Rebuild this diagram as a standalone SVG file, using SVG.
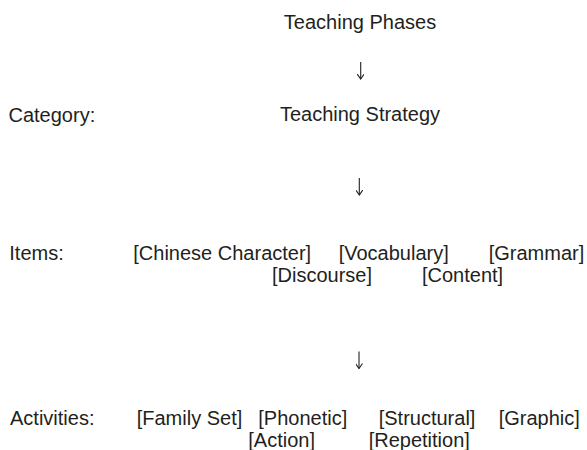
<svg xmlns="http://www.w3.org/2000/svg" width="587" height="450" viewBox="0 0 587 450">
<style>
text{font-family:"Liberation Sans",Arial,Helvetica,sans-serif;font-size:20px;fill:#231f20}
.m{text-anchor:middle}
.arr{fill:none;stroke:#231f20;stroke-width:1.1}
</style>
<defs>
<marker id="head" viewBox="0 0 6 7" refX="5.5" refY="3.5" markerWidth="6" markerHeight="7" markerUnits="userSpaceOnUse" orient="auto">
<path d="M0.5,0 L5.5,3.5 L0.5,7" fill="none" stroke="#231f20" stroke-width="1.1"/>
</marker>
</defs>
<rect width="587" height="450" fill="#fff"/>
<g id="phases"><text class="m" x="360" y="29">Teaching Phases</text></g>
<g id="category-label"><text x="8.5" y="121.5">Category:</text></g>
<g id="strategy"><text class="m" x="360" y="121">Teaching Strategy</text></g>
<g id="items-label"><text x="9.3" y="260">Items:</text></g>
<g id="items">
<text x="133.3" y="260">[Chinese Character]</text>
<text x="338.7" y="260">[Vocabulary]</text>
<text x="488.7" y="260">[Grammar]</text>
<text x="272" y="282">[Discourse]</text>
<text x="422" y="282">[Content]</text>
</g>
<g id="activities-label"><text x="10" y="425">Activities:</text></g>
<g id="activities">
<text x="136.7" y="425">[Family Set]</text>
<text x="258.3" y="425">[Phonetic]</text>
<text x="378.7" y="425">[Structural]</text>
<text x="498.7" y="425">[Graphic]</text>
<text x="248.3" y="447">[Action]</text>
<text x="368.7" y="447">[Repetition]</text>
</g>
<g id="connectors">
<path class="arr" d="M360.7,62 V79" marker-end="url(#head)"/>
<path class="arr" d="M359.3,178 V195" marker-end="url(#head)"/>
<path class="arr" d="M359,351.5 V368.5" marker-end="url(#head)"/>
</g>
</svg>
